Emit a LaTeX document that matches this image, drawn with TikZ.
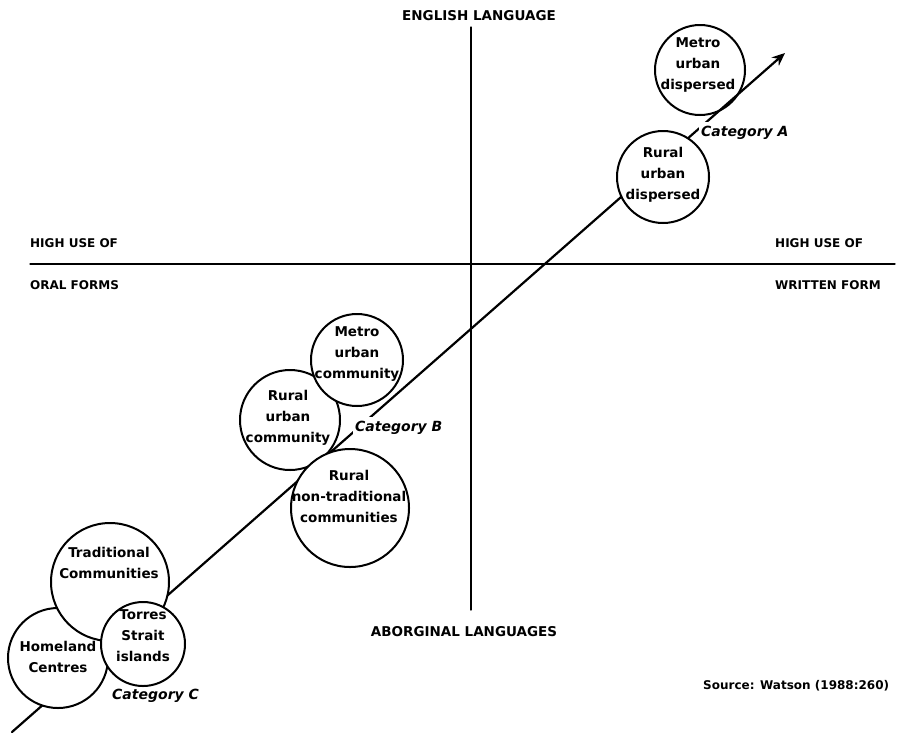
\documentclass[tikz,border=0pt]{standalone}
\usepackage{fontspec}
\setmainfont{DejaVu Sans}
\usetikzlibrary{arrows.meta,positioning}

\begin{document}
\begin{tikzpicture}[x=1pt,y=-1pt,line cap=round,
  zone/.style={circle,draw,line width=2pt,fill=white,inner sep=0pt,minimum size=#1},
  zonetext/.style={align=center,inner sep=0pt,font=\fontsize{13.5}{21}\selectfont\bfseries},
  axislabel/.style={inner sep=0pt,font=\fontsize{12}{14}\selectfont\bfseries},
  bigaxis/.style={inner sep=0pt,font=\fontsize{13.5}{15}\selectfont\bfseries},
  catlabel/.style={anchor=west,fill=white,inner sep=2pt,text height=13pt,
    font=\fontsize{14}{16}\selectfont\bfseries\itshape}]
  \useasboundingbox (0,0) rectangle (901,737);

  % axes
  \coordinate (ytop) at (471,27);
  \coordinate (ybot) at (471,610);
  \coordinate (xleft) at (30,264);
  \coordinate (xright) at (895,264);
  \draw[line width=1.3pt] (ytop) -- (ybot);
  \draw[line width=1.3pt] (xleft) -- (xright);
  \node[bigaxis] (eng) at (479,16) {ENGLISH LANGUAGE};
  \node[bigaxis] (abo) at (464,632) {ABORGINAL LANGUAGES};
  \node[axislabel,anchor=west] (oral1) at (30,243) {HIGH USE OF};
  \node[axislabel,anchor=west] (oral2) at (30,285) {ORAL FORMS};
  \node[axislabel,anchor=west] (writ1) at (775,243) {HIGH USE OF};
  \node[axislabel,anchor=west] (writ2) at (775,285) {WRITTEN FORM};

  % scale line (metro dispersed sits under it)
  \node[zone=90pt] (mud) at (700,70) {};
  \node[zonetext] (mudtext) at (698,65) {Metro\\urban\\dispersed};
  \coordinate (lstart) at (12,732);
  \coordinate (ltip) at (785,53);
  \draw[line width=2.2pt,-{Stealth[length=13pt,width=11pt]}] (lstart) -- (ltip);

  % category A
  \node[zone=92pt] (rud) at (663,177) {};
  \node[zonetext] (rudtext) at (663,175) {Rural\\urban\\dispersed};
  \node[catlabel] (cata) at (699,132) {Category A};

  % category B
  \node[zone=100pt] (ruc) at (290,420) {};
  \node[zonetext] (ructext) at (288,418) {Rural\\urban\\community};
  \node[zone=92pt] (muc) at (357,360) {};
  \node[zonetext] (muctext) at (357,354) {Metro\\urban\\community};
  \node[zone=118pt] (rnt) at (350,508) {};
  \node[zonetext] (rnttext) at (349,496) {Rural\\non-traditional\\communities};
  \node[catlabel] (catb) at (353,427) {Category B};

  % category C
  \node[zone=100pt] (home) at (58,658) {};
  \node[zonetext] (hometext) at (58,657) {Homeland\\Centres};
  \node[zone=118pt] (trad) at (110,582) {};
  \node[zonetext] (tradtext) at (109,563) {Traditional\\Communities};
  \node[zone=84pt] (tsi) at (143,644) {};
  \node[zonetext] (tsitext) at (143,636) {Torres\\Strait\\islands};
  \node[catlabel,fill=none] (catc) at (110,694) {Category C};

  \node[axislabel,anchor=west] (src) at (703,686) {Source: Watson (1988:260)};
\end{tikzpicture}
\end{document}
